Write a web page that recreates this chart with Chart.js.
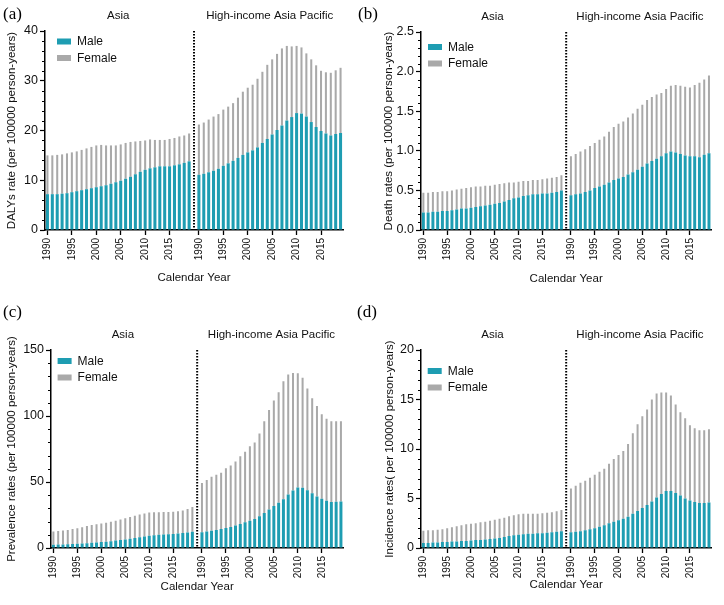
<!DOCTYPE html>
<html><head><meta charset="utf-8">
<script src="https://cdn.jsdelivr.net/npm/chart.js@4/dist/chart.umd.min.js"></script>
<style>
html,body{margin:0;padding:0;background:#fff;width:724px;height:605px;overflow:hidden;}
.panel{position:absolute;}
canvas{display:block;}
</style></head><body>
<div class="panel" style="left:0;top:0"><canvas id="pa" width="356" height="300"></canvas></div>
<div class="panel" style="left:356px;top:0"><canvas id="pb" width="368" height="300"></canvas></div>
<div class="panel" style="left:0;top:300px"><canvas id="pc" width="356" height="305"></canvas></div>
<div class="panel" style="left:356px;top:300px"><canvas id="pd" width="368" height="305"></canvas></div>
<script>
// ---------- categories ----------
const years = [1990,1991,1992,1993,1994,1995,1996,1997,1998,1999,2000,2001,2002,2003,2004,2005,2006,2007,2008,2009,2010,2011,2012,2013,2014,2015,2016,2017,2018,2019];
const tickYears = [1990,1995,2000,2005,2010,2015];
const regions = ['Asia','High-income Asia Pacific'];
const seriesNames = ['Male','Female'];

// ---------- (a) DALYs rate ----------
const dalyAsiaMale   = [7.2,7.2,7.2,7.3,7.4,7.6,7.8,8.0,8.2,8.4,8.6,8.8,9.0,9.3,9.6,9.9,10.3,10.7,11.2,11.7,12.1,12.4,12.6,12.8,12.8,12.8,13.0,13.2,13.5,13.8];
const dalyAsiaFemale = [7.8,7.8,7.9,7.9,8.0,8.0,8.0,8.1,8.2,8.3,8.4,8.3,8.0,7.7,7.4,7.3,7.2,7.0,6.6,6.2,5.9,5.8,5.5,5.3,5.3,5.5,5.5,5.6,5.5,5.6];
const dalyHiMale     = [11.1,11.3,11.6,11.9,12.3,12.9,13.4,13.9,14.5,15.1,15.6,16.0,16.6,17.5,18.3,19.2,20.1,21.0,22.0,22.7,23.5,23.4,22.8,21.7,20.7,19.9,19.4,19.0,19.3,19.5];
const dalyHiFemale   = [10.1,10.3,10.6,10.9,11.0,11.3,11.4,11.6,12.1,12.7,13.0,13.2,13.8,14.3,14.9,15.1,15.3,15.5,15.0,14.2,13.5,13.3,12.7,12.6,12.4,12.1,12.3,12.6,12.8,13.1];

// ---------- (b) Death rates ----------
const deathAsiaMale   = [0.22,0.22,0.23,0.23,0.24,0.24,0.25,0.26,0.27,0.27,0.28,0.29,0.30,0.31,0.32,0.33,0.34,0.36,0.38,0.40,0.41,0.43,0.44,0.45,0.45,0.46,0.46,0.47,0.48,0.50];
const deathAsiaFemale = [0.25,0.25,0.25,0.25,0.25,0.25,0.25,0.25,0.25,0.26,0.26,0.26,0.25,0.25,0.24,0.24,0.24,0.23,0.22,0.20,0.20,0.19,0.18,0.18,0.18,0.18,0.19,0.19,0.19,0.19];
const deathHiMale     = [0.44,0.45,0.46,0.48,0.50,0.53,0.55,0.57,0.60,0.63,0.65,0.67,0.70,0.73,0.76,0.80,0.84,0.87,0.90,0.93,0.97,0.99,0.98,0.96,0.94,0.93,0.93,0.92,0.95,0.97];
const deathHiFemale   = [0.49,0.51,0.53,0.54,0.56,0.57,0.59,0.61,0.64,0.67,0.69,0.70,0.72,0.74,0.77,0.78,0.80,0.81,0.81,0.80,0.81,0.83,0.85,0.86,0.87,0.87,0.90,0.94,0.95,0.98];

// ---------- (c) Prevalence rates ----------
const prevAsiaMale   = [2.5,2.6,2.7,2.8,3.0,3.2,3.4,3.6,3.9,4.2,4.5,4.8,5.2,5.6,6.0,6.5,7.0,7.6,8.2,8.8,9.3,9.7,10.0,10.2,10.4,10.6,10.9,11.3,11.8,12.3];
const prevAsiaFemale = [10.0,10.2,10.5,10.9,11.3,11.8,12.4,13.0,13.5,13.8,14.1,14.4,14.6,15.0,15.5,16.0,16.5,16.9,17.2,17.4,17.5,17.4,17.1,17.0,16.9,16.9,16.9,17.1,17.7,18.7];
const prevHiMale     = [12.0,12.5,13.0,13.6,14.3,15.2,16.0,17.0,18.2,19.5,20.6,22.0,24.0,26.6,29.2,31.8,34.2,37.0,40.5,43.5,45.8,45.6,43.8,41.5,39.0,37.3,35.8,34.8,35.0,35.2];
const prevHiFemale   = [37.2,39.0,41.0,41.9,42.7,45.3,46.5,48.5,51.3,53.5,56.4,58.0,62.8,69.4,75.3,80.0,83.8,89.3,91.0,89.0,86.5,83.4,77.0,72.0,68.5,64.0,62.2,61.2,61.0,60.8];

// ---------- (d) Incidence rates ----------
const incAsiaMale   = [0.5,0.5,0.55,0.55,0.6,0.6,0.65,0.65,0.7,0.7,0.75,0.8,0.8,0.85,0.9,0.95,1.0,1.1,1.2,1.3,1.35,1.4,1.45,1.45,1.5,1.5,1.55,1.6,1.65,1.7];
const incAsiaFemale = [1.25,1.3,1.25,1.3,1.3,1.4,1.45,1.55,1.6,1.7,1.7,1.7,1.8,1.8,1.85,1.9,1.95,1.95,2.0,2.0,2.05,2.05,2.0,2.0,1.95,2.0,2.0,2.0,2.05,2.15];
const incHiMale     = [1.6,1.65,1.7,1.8,1.9,2.0,2.15,2.3,2.5,2.65,2.8,2.95,3.15,3.45,3.75,4.05,4.35,4.7,5.1,5.45,5.75,5.75,5.55,5.3,5.0,4.8,4.65,4.55,4.55,4.6];
const incHiFemale   = [4.4,4.65,4.9,5.0,5.2,5.4,5.55,5.7,6.0,6.35,6.6,6.85,7.35,8.15,8.75,9.25,9.65,10.3,10.5,10.25,9.95,9.65,8.95,8.4,8.1,7.6,7.45,7.35,7.35,7.4];

// ---------- styling ----------
const TEAL = '#1e9db2';
const GRAY = '#a9a9a9';
const SANS = 'Arial, "Liberation Sans", Helvetica, sans-serif';
const SERIF = '"Times New Roman", "Liberation Serif", serif';
const FS = 11.5;     // titles, legend
const FS_Y = 12.5;   // y tick labels
const FS_X = 10;     // x tick labels

const panels = [
  {id:'pa', tag:'(a)', tagX:3, tagY:19, yTitle:'DALYs rate (per 100000 person-years)',
   am:dalyAsiaMale, af:dalyAsiaFemale, hm:dalyHiMale, hf:dalyHiFemale,
   ymax:40, major:10, minor:2, dec:0,
   W:356, H:300, left:45, top:31, right:343, bottom:230, yTitlePad:4.8, xTitlePad:14.8, legX:12, legY:10.5},
  {id:'pb', tag:'(b)', tagX:2, tagY:19, yTitle:'Death rates (per 100000 person-years)',
   am:deathAsiaMale, af:deathAsiaFemale, hm:deathHiMale, hf:deathHiFemale,
   ymax:2.5, major:0.5, minor:0.1, dec:1,
   W:368, H:300, left:65, top:32, right:364, bottom:230, yTitlePad:25.8, xTitlePad:14.5, legX:7, legY:15},
  {id:'pc', tag:'(c)', tagX:3, tagY:17, yTitle:'Prevalence rates (per 100000 person-years)',
   am:prevAsiaMale, af:prevAsiaFemale, hm:prevHiMale, hf:prevHiFemale,
   ymax:150, major:50, minor:10, dec:0,
   W:356, H:305, left:51, top:50, right:348, bottom:248, yTitlePad:4.5, xTitlePad:11, legX:6.6, legY:11},
  {id:'pd', tag:'(d)', tagX:1, tagY:17, yTitle:'Incidence rates( per 100000 person-years)',
   am:incAsiaMale, af:incAsiaFemale, hm:incHiMale, hf:incHiFemale,
   ymax:20, major:5, minor:1, dec:0,
   W:368, H:305, left:65, top:50, right:364, bottom:248, yTitlePad:27, xTitlePad:12.8, legX:6.7, legY:21}
];

function makePanel(p) {
  const labels = [...years.map(String), '', ...years.map(String)];
  const gapIndex = years.length;
  const male = [...p.am, null, ...p.hm];
  const female = [...p.af, null, ...p.hf];

  const decor = {
    id: 'decor_' + p.id,
    afterDraw(chart) {
      const ctx = chart.ctx, ca = chart.chartArea;
      const xs = chart.scales.x, ys = chart.scales.y;
      ctx.save();
      // dotted separator
      const gx = xs.getPixelForValue(gapIndex);
      ctx.strokeStyle = '#000'; ctx.lineWidth = 2; ctx.setLineDash([1.5, 1.5]);
      ctx.beginPath(); ctx.moveTo(gx, ca.top); ctx.lineTo(gx, ca.bottom); ctx.stroke();
      ctx.setLineDash([]);
      // minor y ticks
      ctx.lineWidth = 1; ctx.strokeStyle = '#000';
      const nMinor = Math.round(p.ymax / p.minor);
      const perMajor = Math.round(p.major / p.minor);
      for (let k = 0; k <= nMinor; k++) {
        if (k % perMajor === 0) continue;
        const y = Math.round(ys.getPixelForValue(k * p.minor)) + 0.5;
        ctx.beginPath(); ctx.moveTo(ca.left - 3, y); ctx.lineTo(ca.left, y); ctx.stroke();
      }
      // group titles
      ctx.fillStyle = '#111';
      ctx.font = FS + 'px ' + SANS;
      ctx.textAlign = 'center'; ctx.textBaseline = 'middle';
      const a0 = xs.getPixelForValue(0), a1 = xs.getPixelForValue(gapIndex - 1);
      const h0 = xs.getPixelForValue(gapIndex + 1), h1 = xs.getPixelForValue(labels.length - 1);
      ctx.fillText(regions[0], (a0 + a1) / 2, ca.top - 15);
      ctx.fillText(regions[1], (h0 + h1) / 2, ca.top - 15);
      // legend
      ctx.textAlign = 'left';
      ctx.font = '12px ' + SANS;
      chart.data.datasets.forEach((ds, i) => {
        const cy = ca.top + p.legY + i * 16.5;
        ctx.fillStyle = ds.backgroundColor;
        ctx.fillRect(ca.left + p.legX, cy - 3, 14, 6);
        ctx.fillStyle = '#111';
        ctx.fillText(ds.label, ca.left + p.legX + 20, cy + 0.5);
      });
      // panel tag
      ctx.font = '17px ' + SERIF;
      ctx.textBaseline = 'alphabetic';
      ctx.fillStyle = '#000';
      ctx.fillText(p.tag, p.tagX, p.tagY);
      ctx.restore();
    }
  };

  new Chart(document.getElementById(p.id), {
    type: 'bar',
    data: {
      labels,
      datasets: [
        {label: seriesNames[0], data: male, backgroundColor: TEAL, barPercentage: 0.62, categoryPercentage: 1},
        {label: seriesNames[1], data: female, backgroundColor: GRAY, barPercentage: 0.42, categoryPercentage: 1}
      ]
    },
    options: {
      responsive: false, animation: false, devicePixelRatio: 1,
      layout: {padding: {top: p.top, right: p.W - p.right, left: 0, bottom: 0}},
      plugins: {legend: {display: false}, tooltip: {enabled: false}},
      scales: {
        x: {
          stacked: true, offset: true,
          grid: {display: true, offset: false, drawOnChartArea: false, drawTicks: true, tickLength: 5, tickWidth: 1.3,
                 tickColor: c => (c.tick && c.tick.label) ? '#000' : 'rgba(0,0,0,0)'},
          border: {display: true, color: '#000', width: 1.5},
          ticks: {autoSkip: false, maxRotation: 90, minRotation: 90, padding: 3, color: '#111',
                  font: {family: SANS, size: FS_X},
                  callback(v) { const l = this.getLabelForValue(v); return l !== '' && tickYears.includes(Number(l)) ? l : ''; }},
          title: {display: true, text: 'Calendar Year', color: '#111', font: {family: SANS, size: FS}, padding: {top: 0, bottom: p.xTitlePad}},
          afterFit(s) { s.height = p.H - p.bottom; }
        },
        y: {
          stacked: true, min: 0, max: p.ymax,
          grid: {display: true, drawOnChartArea: false, drawTicks: true, tickLength: 5, tickWidth: 1.2, tickColor: '#000'},
          border: {display: true, color: '#000', width: 1.5},
          ticks: {stepSize: p.major, padding: 2, color: '#111', font: {family: SANS, size: FS_Y},
                  callback: v => Number(v).toFixed(p.dec)},
          title: {display: true, text: p.yTitle, color: '#111', font: {family: SANS, size: FS}, padding: {top: p.yTitlePad, bottom: 0}},
          afterFit(s) { s.width = p.left; }
        }
      }
    },
    plugins: [decor]
  });
}

panels.forEach(makePanel);
</script>
</body></html>
